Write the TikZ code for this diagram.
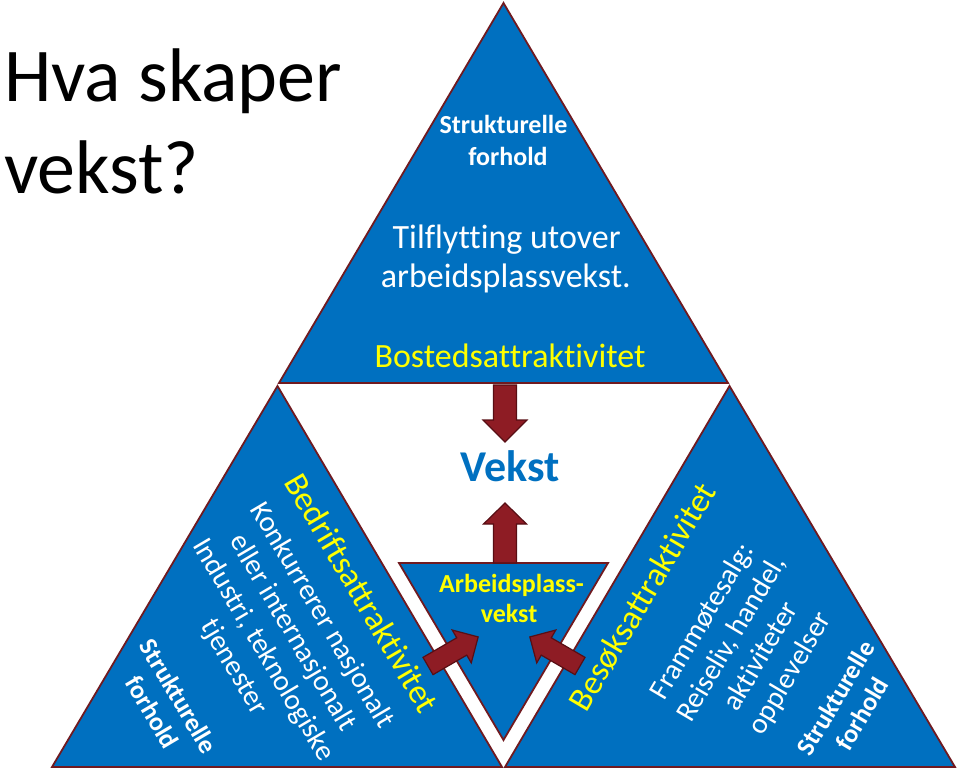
\documentclass[tikz,border=0pt]{standalone}
\usepackage{fontspec}
\setmainfont{Carlito}[Ligatures=NoCommon]
\definecolor{triblue}{RGB}{0,112,192}
\definecolor{edgered}{RGB}{112,26,32}
\definecolor{arrowred}{RGB}{142,28,36}
\definecolor{arrowedge}{RGB}{88,14,20}
\definecolor{txtyellow}{RGB}{255,255,0}
\newcommand{\blockarrow}[6]{%
  \pgfmathsetmacro\hbase{#3-#6}%
  \path[barrow, shift={(#1)}, rotate=#2]
    (0pt,-#4pt) -- (\hbase pt,-#4pt) -- (\hbase pt,-#5pt) -- (#3pt,0pt)
    -- (\hbase pt,#5pt) -- (\hbase pt,#4pt) -- (0pt,#4pt) -- cycle;}
\begin{document}
\begin{tikzpicture}[x=1pt,y=-1pt,
  tri/.style={fill=triblue, draw=edgered, line width=1.8pt, line join=miter},
  barrow/.style={fill=arrowred, draw=arrowedge, line width=1.2pt, line join=miter},
  yel/.style={text=txtyellow, font=\fontsize{34}{40}\selectfont, inner sep=0pt},
  wbig/.style={text=white, font=\fontsize{34}{39}\selectfont, inner sep=0pt},
  wht/.style={text=white, font=\fontsize{29}{34}\selectfont, align=center, inner sep=0pt},
  whtb/.style={text=white, font=\bfseries\fontsize{26}{31}\selectfont, align=center, inner sep=0pt},
  titlef/.style={text=black, font=\fontsize{76}{92}\selectfont, inner sep=0pt, anchor=base west}]
\useasboundingbox (0,0) rectangle (960,772);

% triangle corners
\coordinate (tA) at (503.5,3);   \coordinate (tL) at (279,383);  \coordinate (tR) at (728,383);
\coordinate (lA) at (277.5,386); \coordinate (lL) at (52,767);   \coordinate (lR) at (502,767);
\coordinate (rA) at (729.5,386); \coordinate (rL) at (505,767);  \coordinate (rR) at (955,767);
\coordinate (sL) at (399,563);   \coordinate (sR) at (608,563);  \coordinate (sB) at (503.5,740);

\path[tri] (tA) -- (tL) -- (tR) -- cycle;
\path[tri] (lA) -- (lL) -- (lR) -- cycle;
\path[tri] (rA) -- (rL) -- (rR) -- cycle;
\path[tri] (sL) -- (sR) -- (sB) -- cycle;

% block arrows
\coordinate (dnTail) at (505,385);
\coordinate (upTail) at (505,563);
\coordinate (lfTail) at (428,666);
\coordinate (rtTail) at (580,666);
\blockarrow{dnTail}{-90}{57}{11.5}{22}{22}
\blockarrow{upTail}{90}{60}{11.5}{21.5}{21}
\blockarrow{lfTail}{30.1}{58}{10}{19}{19}
\blockarrow{rtTail}{149.9}{58}{10}{19}{19}

% title
\node[titlef] (t1) at (4,101) {Hva skaper};
\node[titlef] (t2) at (4,193) {vekst?};

% top triangle
\node[whtb, anchor=base] (s1) at (503.5,133) {Strukturelle};
\node[whtb, anchor=base] (s2) at (508,165) {forhold};
\node[wbig, anchor=base] (ti1) at (506.7,248) {Tilflytting utover};
\node[wbig, anchor=base] (ti2) at (505.8,287) {arbeidsplassvekst.};
\node[yel, anchor=base] (bo) at (510,367) {Bostedsattraktivitet};

% centre
\node[text=triblue, font=\bfseries\fontsize{44}{50}\selectfont, inner sep=0pt, anchor=base] (vekst) at (510,481) {Vekst};
\node[text=txtyellow, font=\bfseries\fontsize{26}{30}\selectfont, inner sep=0pt, anchor=base] (ap1) at (511.5,592) {Arbeidsplass-};
\node[text=txtyellow, font=\bfseries\fontsize{26}{30}\selectfont, inner sep=0pt, anchor=base] (ap2) at (509,622) {vekst};

% left triangle
\node[yel, rotate=-59.45] (bed) at (362,593) {Bedriftsattraktivitet};
\node[wht, rotate=-59.45] (bedtxt) at (277.5,641.5) {Konkurrerer nasjonalt\\eller internasjonalt\\Industri, teknologiske\\tjenester};
\node[whtb, rotate=-59.45] (bedst) at (165.5,704) {Strukturelle\\forhold};

% right triangle
\node[yel, rotate=59.45] (bes) at (642.5,596.5) {Besøksattraktivitet};
\node[wht, rotate=59.45] (bestxt) at (746.75,647.75) {Frammøtesalg:\\Reiseliv, handel,\\aktiviteter\\opplevelser};
\node[whtb, rotate=59.45] (besst) at (848.75,705.75) {Strukturelle\\forhold};
\end{tikzpicture}
\end{document}
